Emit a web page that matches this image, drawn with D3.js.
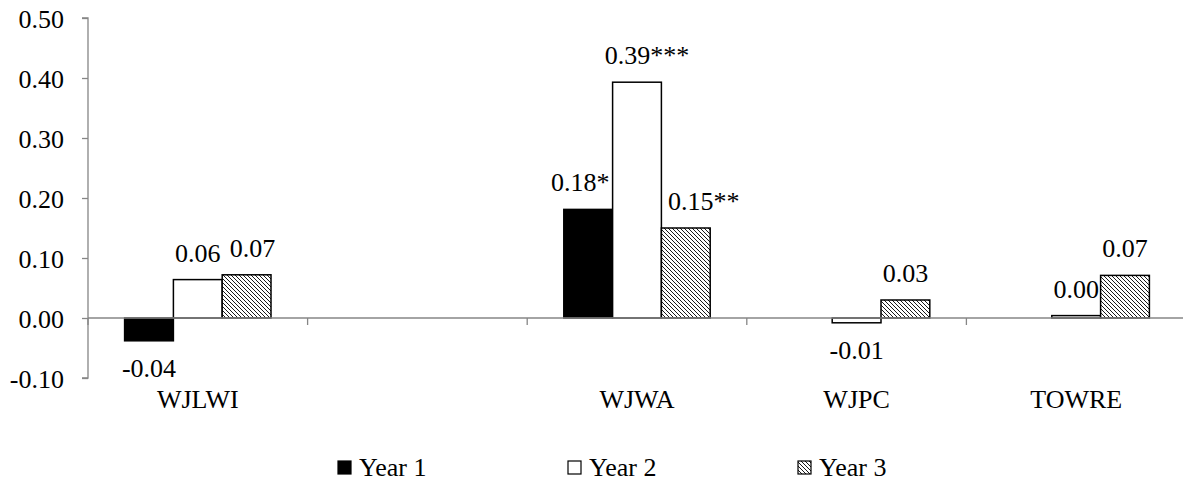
<!DOCTYPE html>
<html>
<head>
<meta charset="utf-8">
<script src="https://cdnjs.cloudflare.com/ajax/libs/d3/7.8.5/d3.min.js"></script>
<style>
  body { margin: 0; background: #fff; }
  svg text { font-family: "Liberation Serif", "Times New Roman", serif; font-size: 26px; fill: #000; }
</style>
</head>
<body>
<svg id="chart" width="1183" height="485"></svg>
<script>
// data
var categories = ["WJLWI", "", "WJWA", "WJPC", "TOWRE"];
var seriesNames = ["Year 1", "Year 2", "Year 3"];
var year1 = [-0.038, null, 0.181, null, null];
var year2 = [0.064, null, 0.393, -0.008, 0.004];
var year3 = [0.072, null, 0.150, 0.030, 0.071];
var stars1 = ["", "", "*", "", ""];
var stars2 = ["", "", "***", "", ""];
var stars3 = ["", "", "**", "", ""];
var yTicks = [-0.1, 0, 0.1, 0.2, 0.3, 0.4, 0.5];

// small manual label nudges, as in the original
var labelDx = [[0, 0, -8, 0, 0], [0, 0, 10, 0, 0], [6, 0, 18, 0, 0]];

var series = [year1, year2, year3];
var stars = [stars1, stars2, stars3];

var svg = d3.select("#chart"),
    plotLeft = 88, plotRight = 1186, plotTop = 18, plotBottom = 378;

var defs = svg.append("defs");
var pat = defs.append("pattern")
    .attr("id", "hatch")
    .attr("patternUnits", "userSpaceOnUse")
    .attr("width", 4).attr("height", 4);
pat.append("rect").attr("width", 4).attr("height", 4).attr("fill", "#fff");
pat.append("path")
    .attr("d", "M-1,-1L5,5M3,-1L5,1M-1,3L1,5")
    .attr("stroke", "#000").attr("stroke-width", 0.9);

var fills = ["#000", "#fff", "url(#hatch)"];

var x = d3.scaleBand()
    .domain(categories.map(function (d, i) { return i; }))
    .range([plotLeft, plotRight]);

var xs = d3.scaleBand()
    .domain(seriesNames)
    .range([0, x.bandwidth()])
    .paddingInner(0)
    .paddingOuter(0.75);

var y = d3.scaleLinear().domain([-0.1, 0.5]).range([plotBottom, plotTop]);

function fmt(v) { return v.toFixed(2); }

// y axis
var yAxis = svg.append("g")
    .attr("transform", "translate(" + plotLeft + ",0)")
    .call(d3.axisLeft(y).tickValues(yTicks).tickSize(6).tickPadding(18)
        .tickFormat(fmt));
yAxis.attr("font-family", null).attr("font-size", null);
yAxis.select(".domain").attr("stroke", "#868686").attr("stroke-width", 1.3)
    .attr("d", "M-6," + y(0.5) + "H0V" + y(-0.1) + "H-6");
yAxis.selectAll(".tick line").attr("stroke", "#868686").attr("stroke-width", 1.3);
yAxis.selectAll(".tick text").attr("dy", "0.35em");

// bars
series.forEach(function (vals, s) {
  var g = svg.append("g");
  vals.forEach(function (v, i) {
    if (v === null) return;
    var x0 = x(i) + xs(seriesNames[s]);
    g.append("rect")
      .attr("x", x0)
      .attr("y", y(Math.max(0, v)))
      .attr("width", xs.bandwidth())
      .attr("height", Math.abs(y(v) - y(0)))
      .attr("fill", fills[s])
      .attr("stroke", "#000")
      .attr("stroke-width", 1.5);
  });
});

// horizontal axis at zero
var xAxis = svg.append("g").attr("transform", "translate(0," + y(0) + ")");
xAxis.append("path")
    .attr("d", "M" + plotLeft + ",0H1183")
    .attr("stroke", "#868686").attr("stroke-width", 1.3).attr("fill", "none");
xAxis.selectAll(".ctick")
    .data(categories.map(function (d, i) { return i; }))
  .enter().append("line")
    .attr("class", "ctick")
    .attr("x1", function (i) { return x(i); })
    .attr("x2", function (i) { return x(i); })
    .attr("y1", 0).attr("y2", 7)
    .attr("stroke", "#868686").attr("stroke-width", 1.3);

// category labels
svg.selectAll(".clabel")
    .data(categories)
  .enter().append("text")
    .attr("class", "clabel")
    .attr("x", function (d, i) { return x(i) + x.bandwidth() / 2; })
    .attr("y", 408)
    .attr("text-anchor", "middle")
    .text(function (d) { return d; });

// data labels
series.forEach(function (vals, s) {
  vals.forEach(function (v, i) {
    if (v === null) return;
    var cx = x(i) + xs(seriesNames[s]) + xs.bandwidth() / 2 + labelDx[s][i];
    svg.append("text")
      .attr("x", cx)
      .attr("y", v >= 0 ? y(v) - 18 : y(v) + 36)
      .attr("text-anchor", "middle")
      .text(fmt(v) + stars[s][i]);
  });
});

// legend
var legend = svg.append("g");
seriesNames.forEach(function (name, s) {
  var lx = 338 + s * 230;
  legend.append("rect")
    .attr("x", lx).attr("y", 461)
    .attr("width", 13).attr("height", 13)
    .attr("fill", fills[s])
    .attr("stroke", "#000").attr("stroke-width", 1.2);
  legend.append("text")
    .attr("x", lx + 21).attr("y", 476)
    .text(name);
});
</script>
</body>
</html>
